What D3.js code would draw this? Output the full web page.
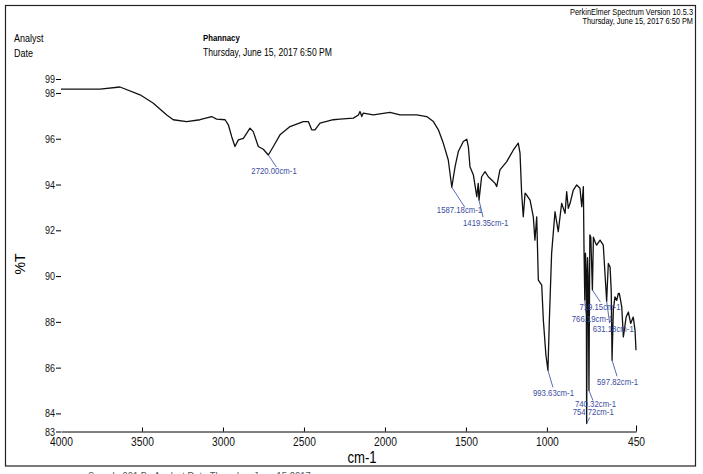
<!DOCTYPE html>
<html>

<head>
    <title>IR spectrum</title>
    <script src="https://d3js.org/d3.v7.min.js"></script>
    <style>
        body {
            margin: 0;
            background: #fff;
        }

        svg text {
            font-family: "Liberation Sans", Arial, sans-serif;
        }

        .axis .domain {
            stroke: #000;
        }

        .axis line {
            stroke: #000;
        }

        .axis text {
            fill: #111;
        }
    </style>
</head>

<body>
    <svg id="spectrum" width="703" height="474"></svg>

    <script>
        // spectrum (cm-1, %T)
        const wavenumber = [4000, 3759, 3636, 3512, 3432, 3347, 3307, 3224, 3142, 3070, 3039, 2987, 2967, 2946,
            2926, 2905, 2874, 2833, 2813, 2782, 2751, 2720, 2689, 2648, 2586, 2504, 2473, 2452, 2432, 2401,
            2319, 2278, 2195, 2164, 2154, 2143, 2134, 2072, 1969, 1907, 1804, 1742, 1701, 1670, 1640, 1609,
            1587.18, 1567, 1547, 1516, 1495, 1485, 1475, 1454, 1433, 1424, 1419.35, 1403, 1382, 1362, 1341,
            1320, 1310, 1290, 1248, 1207, 1177, 1166, 1156, 1146, 1135, 1125, 1104, 1084, 1074, 1063, 1053,
            1032, 1022, 1006, 993.63, 985, 971, 950, 930, 909, 888, 878, 868, 857, 837, 816, 796, 785, 775,
            771, 766.19, 762, 757, 754.72, 749, 745, 740.32, 735, 729, 719.15, 713, 703, 693, 672, 652,
            631.18, 621, 610, 603, 597.82, 590, 580, 569, 559, 553, 549, 538, 528, 511, 497, 483, 467, 456, 450];
        const transmittance = [98.17, 98.17, 98.26, 97.92, 97.56, 97.04, 96.83, 96.75, 96.83, 96.97, 96.86,
            96.83, 96.61, 96.09, 95.66, 95.95, 96.02, 96.46, 96.31, 95.66, 95.54, 95.29, 95.66, 96.17, 96.53,
            96.75, 96.75, 96.39, 96.39, 96.68, 96.83, 96.86, 96.90, 97.04, 97.19, 96.97, 97.12, 97.04, 97.15,
            97.04, 97.04, 96.97, 96.75, 96.39, 95.81, 95.07,
            93.88, 94.78, 95.44, 95.88, 95.98, 95.66, 94.78, 94.42, 93.47, 94.05, 93.32, 94.34, 94.56, 94.34,
            94.20, 94.05, 93.91, 94.64, 95.00, 95.51, 95.81, 95.37, 93.62, 92.59, 93.62, 93.54, 93.32, 92.59,
            91.57, 92.59, 89.82, 89.60, 88.07, 86.54, 85.88, 88.07, 90.99, 92.81, 91.94, 93.18, 92.74, 93.69,
            92.96, 93.18, 93.76, 93.98, 93.84, 93.03, 93.91,
            91.2, 88.95, 91.0, 90.2, 83.56, 90.8, 90.0, 85.0, 91.8, 91.7, 89.39, 91.7, 91.50, 91.35, 91.57, 91.35,
            88.9, 90.55, 90.39, 89.38, 86.32, 88.51, 89.09, 88.94, 89.24, 89.24, 89.09, 88.65, 87.34, 88.21,
            88.43, 87.93, 88.21, 87.63, 86.76];

        const peakWavenumbers = [2720.00, 1587.18, 1419.35, 993.63, 766.19, 754.72, 740.32, 719.15, 631.18, 597.82];
        const peakLabels = ["2720.00cm-1", "1587.18cm-1", "1419.35cm-1", "993.63cm-1", "766.19cm-1",
            "754.72cm-1", "740.32cm-1", "719.15cm-1", "631.18cm-1", "597.82cm-1"];

        const xTickValues = [4000, 3500, 3000, 2500, 2000, 1500, 1000, 450];
        const yTickValues = [84, 86, 88, 90, 92, 94, 96, 98];
        const yRange = [83.21, 98.61];   // ends are printed rounded: 83 and 99

        const headerLeft = ["Analyst", "Date"];
        const headerMiddle = ["Phannacy", "Thursday, June 15, 2017 6:50 PM"];
        const headerRight = ["PerkinElmer Spectrum Version 10.5.3", "Thursday, June 15, 2017 6:50 PM"];

        const svg = d3.select("#spectrum");

        // the printout uses a narrow face; squeeze Liberation Sans horizontally
        const K = 0.82;
        function narrow(sel) {
            sel.each(function () {
                const t = d3.select(this);
                const xv = +t.attr("x") || 0;
                t.attr("x", xv / K).attr("transform", "scale(" + K + ",1)");
            });
        }

        // page frame
        svg.append("rect")
            .attr("x", 5.5).attr("y", 5.5)
            .attr("width", 690).attr("height", 460.5)
            .attr("fill", "none")
            .attr("stroke", "#222")
            .attr("stroke-width", 1.2);

        svg.selectAll("text.hleft").data(headerLeft)
            .join("text")
            .attr("class", "hleft")
            .attr("x", 14)
            .attr("y", (d, i) => 42 + i * 15)
            .attr("font-size", 11)
            .text(d => d)
            .call(narrow);

        svg.selectAll("text.hmid").data(headerMiddle)
            .join("text")
            .attr("class", "hmid")
            .attr("x", 203)
            .attr("y", (d, i) => 41 + i * 15)
            .attr("font-size", (d, i) => i == 0 ? 9.5 : 10.5)
            .attr("font-weight", (d, i) => i == 0 ? "bold" : "normal")
            .text(d => d)
            .call(narrow);

        svg.selectAll("text.hright").data(headerRight)
            .join("text")
            .attr("class", "hright")
            .attr("x", 693)
            .attr("y", (d, i) => 15 + i * 9.5)
            .attr("text-anchor", "end")
            .attr("font-size", 9)
            .text(d => d)
            .call(narrow);

        const x = d3.scaleLinear().domain([4000, 450]).range([61, 636]);
        const y = d3.scaleLinear().domain(yRange).range([431.5, 79]);

        // y axis: no spine, just "98-" style labels
        const leftAxis = d3.axisLeft(y)
            .tickValues([yRange[0]].concat(yTickValues, [yRange[1]]))
            .tickFormat(d => Math.round(d))
            .tickSize(5)
            .tickPadding(1);
        const gy = svg.append("g")
            .attr("class", "y axis")
            .attr("transform", "translate(61,0)")
            .call(leftAxis);
        gy.select(".domain").remove();
        gy.selectAll("text").attr("font-size", 11).call(narrow);

        const bottomAxis = d3.axisBottom(x)
            .tickValues(xTickValues)
            .tickFormat(d3.format("d"))
            .tickSize(-4)
            .tickSizeOuter(0)
            .tickPadding(6);
        const gx = svg.append("g")
            .attr("class", "x axis")
            .attr("transform", "translate(0,431.5)")
            .call(bottomAxis);
        gx.selectAll("text").attr("font-size", 12.5).call(narrow);
        gx.selectAll(".tick line").filter(d => d == 4000).remove();
        gx.selectAll(".tick line").filter(d => d == 450).attr("y2", -6);

        svg.append("text")
            .attr("x", 362)
            .attr("y", 463)
            .attr("text-anchor", "middle")
            .attr("font-size", 16)
            .text("cm-1")
            .call(narrow);

        svg.append("text")
            .attr("transform", "translate(25,264) rotate(-90)")
            .attr("text-anchor", "middle")
            .attr("font-size", 14)
            .text("%T");

        // footer line is cut off by the page edge
        svg.append("text")
            .attr("x", 88)
            .attr("y", 480)
            .attr("font-size", 11.5)
            .attr("fill", "#555")
            .text("Sample 001 By Analyst Date Thursday, June 15 2017")
            .call(narrow);

        const points = wavenumber.map((w, i) => [w, transmittance[i]]);

        const lineGen = d3.line()
            .x(d => x(d[0]))
            .y(d => y(d[1]));

        svg.append("path")
            .datum(points)
            .attr("fill", "none")
            .attr("stroke", "#111")
            .attr("stroke-width", 1.3)
            .attr("stroke-linejoin", "round")
            .attr("d", lineGen);

        // peak labels: offset of label (dx, dy) and pointer end (px, py) from the peak
        const labelPlace = [
            { dx: -17, dy: 19, px: 8, py: 12 },
            { dx: -15, dy: 26, px: 13, py: 20 },
            { dx: -16, dy: 26, px: 4, py: 17 },
            { dx: -15, dy: 26, px: 5, py: 17 },
            { dx: -13, dy: 22, px: 1, py: 13 },
            { dx: -14, dy: -8, px: 3, py: -6 },
            { dx: -14, dy: 16.5, px: 4, py: 10 },
            { dx: -13, dy: 20, px: 8, py: 12 },
            { dx: -14, dy: 31, px: 3, py: 22 },
            { dx: -15, dy: 24.5, px: 5, py: 16 }
        ];

        const peaks = peakWavenumbers.map((w, i) => {
            const t = transmittance[wavenumber.indexOf(w)];
            return { x: x(w), y: y(t), label: peakLabels[i], place: labelPlace[i] };
        });

        const gPeaks = svg.append("g").attr("class", "peaks");

        gPeaks.selectAll("line").data(peaks)
            .join("line")
            .attr("x1", d => d.x)
            .attr("y1", d => d.y)
            .attr("x2", d => d.x + d.place.px)
            .attr("y2", d => d.y + d.place.py)
            .attr("stroke", "#4a5aa8")
            .attr("stroke-width", 0.9);

        gPeaks.selectAll("text").data(peaks)
            .join("text")
            .attr("x", d => d.x + d.place.dx)
            .attr("y", d => d.y + d.place.dy)
            .attr("font-size", 9.5)
            .attr("fill", "#3c4da0")
            .text(d => d.label)
            .call(narrow);
    </script>

</body>

</html>
